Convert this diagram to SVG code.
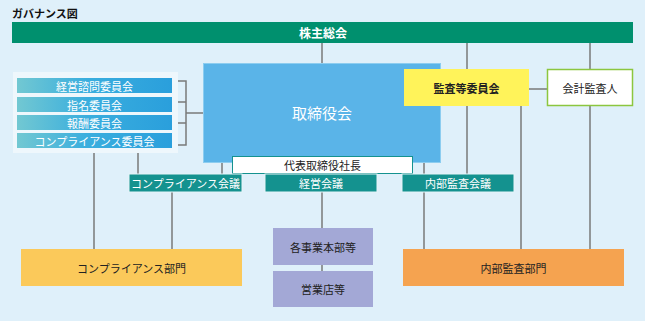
<svg xmlns="http://www.w3.org/2000/svg" width="645" height="321" viewBox="0 0 645 321">
<defs>
<linearGradient id="cg" x1="0" y1="0" x2="1" y2="0">
<stop offset="0" stop-color="#72c8d2"/>
<stop offset="0.45" stop-color="#3aaede"/>
<stop offset="1" stop-color="#2a9fdc"/>
</linearGradient>
<style>
text{font-family:"Noto Sans CJK JP","Noto Sans",sans-serif;text-anchor:middle;dominant-baseline:central}
.w{fill:#fff;font-size:11px}
.k{fill:#222;font-size:11px}
.ln{stroke:#7a7a7a;stroke-width:1.5;fill:none}
.mt{fill:#14928f;stroke:#e6f3f8;stroke-width:1}
</style>
</defs>
<rect x="0" y="0" width="645" height="321" fill="#dff0fa"/>
<text x="12" y="13" style="text-anchor:start;font-size:11px;font-weight:bold;fill:#111">ガバナンス図</text>

<g id="connectors">
<path class="ln" d="M322 43V63 M467 43V174 M590 43V69 M529 89H547 M521 106V249 M590 106V249 M424 163V249 M222 163V174 M138 148V174 M94 148V249 M172 192V249 M322 192V229 M322 265V271 M172 81H186V145H172 M172 102H186 M172 123H186 M186 113H204"/>
</g>

<g id="shareholders">
<rect x="12" y="22" width="621" height="21" fill="#00906e"/>
<text x="323" y="32.5" style="fill:#fff;font-size:12px;font-weight:bold">株主総会</text>
</g>

<g id="committees">
<rect x="13" y="72" width="165" height="81" fill="#eef7fc"/>
<g id="c1"><rect x="17" y="78" width="155" height="15" fill="url(#cg)"/><text class="w" x="94.5" y="85.5">経営諮問委員会</text></g>
<g id="c2"><rect x="17" y="97" width="155" height="15" fill="url(#cg)"/><text class="w" x="94.5" y="104.5">指名委員会</text></g>
<g id="c3"><rect x="17" y="115" width="155" height="15" fill="url(#cg)"/><text class="w" x="94.5" y="122.5">報酬委員会</text></g>
<g id="c4"><rect x="17" y="133" width="155" height="15" fill="url(#cg)"/><text class="w" x="94.5" y="140.5">コンプライアンス委員会</text></g>
</g>

<g id="board">
<rect x="203.5" y="63.5" width="237" height="99" fill="#5ab4e8" stroke="#8ccdf0" stroke-width="1"/>
<text x="322" y="112" style="fill:#fff;font-size:15px">取締役会</text>
</g>

<g id="president">
<rect x="232.5" y="156.5" width="180" height="17" fill="#fff" stroke="#14928f" stroke-width="1"/>
<text class="k" x="322.5" y="165">代表取締役社長</text>
</g>

<g id="compliance-meeting">
<rect class="mt" x="129" y="174" width="113" height="18"/>
<text class="w" x="185.5" y="183">コンプライアンス会議</text>
</g>
<g id="management-meeting">
<rect class="mt" x="265" y="174" width="112" height="18"/>
<text class="w" x="321" y="183">経営会議</text>
</g>
<g id="audit-meeting">
<rect class="mt" x="402" y="174" width="112" height="18"/>
<text class="w" x="458" y="183">内部監査会議</text>
</g>

<g id="audit-committee">
<rect x="404" y="69" width="125" height="37" fill="#fff35a"/>
<text class="k" x="466.5" y="87.5" style="font-weight:bold">監査等委員会</text>
</g>

<g id="accounting-auditor">
<rect x="547.5" y="69.5" width="85" height="36" fill="#fff" stroke="#8cc63f" stroke-width="1.5"/>
<text class="k" x="590" y="87.5">会計監査人</text>
</g>

<g id="business-divisions">
<rect x="273" y="228" width="100" height="37" fill="#a3a8d6"/>
<text class="k" x="323" y="246.5">各事業本部等</text>
</g>
<g id="branches">
<rect x="273" y="271" width="100" height="36" fill="#a3a8d6"/>
<text class="k" x="323" y="289">営業店等</text>
</g>

<g id="compliance-dept">
<rect x="21" y="249" width="221" height="37" fill="#fbc95a"/>
<text class="k" x="131.5" y="267.5">コンプライアンス部門</text>
</g>

<g id="audit-dept">
<rect x="403" y="249" width="221" height="37" fill="#f5a350"/>
<text class="k" x="513.5" y="267.5">内部監査部門</text>
</g>
</svg>
